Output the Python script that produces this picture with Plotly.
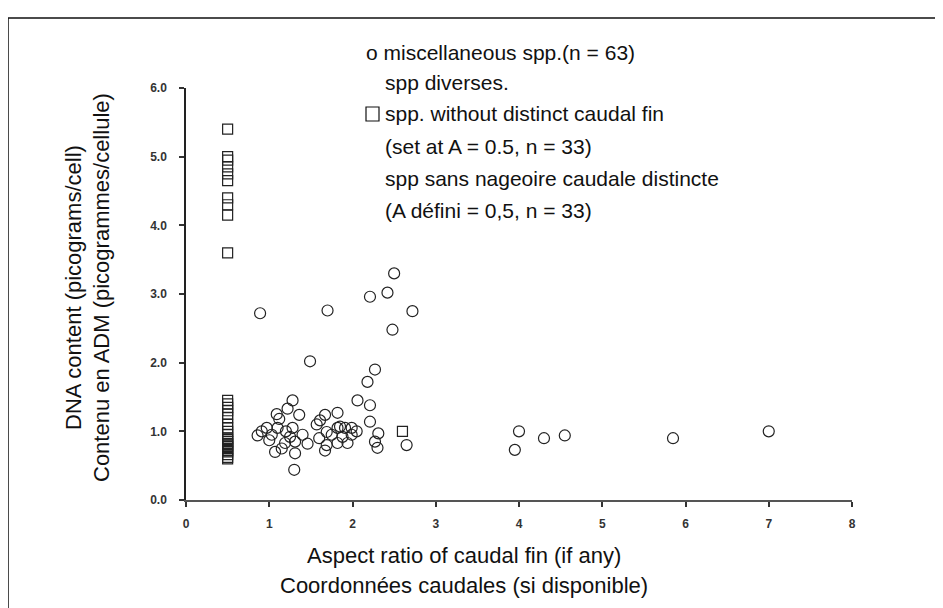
import plotly.graph_objects as go

# --- data -------------------------------------------------------------
circle_x = [0.89, 1.70, 2.21, 2.42, 2.50, 2.72, 2.48, 1.49, 2.27, 2.18, 2.06, 2.21,
            2.21, 2.31, 2.27, 2.30, 2.65, 4.00, 3.95, 4.30, 4.55, 5.85, 7.00,
            1.28, 1.09, 1.22, 1.36, 0.91, 0.86, 1.10, 1.28, 1.00, 1.07, 1.19, 1.31,
            1.31, 1.46, 1.30, 1.20, 1.03, 1.15,
            1.61, 1.67, 1.82, 1.69, 1.82, 1.91, 1.69, 1.82, 1.94, 1.99, 1.85, 1.99,
            1.57, 1.67, 1.75, 1.88, 1.60,
            2.05, 1.40, 1.25, 0.97, 1.12]
circle_y = [2.72, 2.76, 2.96, 3.02, 3.30, 2.75, 2.48, 2.02, 1.90, 1.72, 1.45, 1.38,
            1.14, 0.97, 0.85, 0.76, 0.80, 1.00, 0.73, 0.90, 0.94, 0.90, 1.00,
            1.45, 1.25, 1.33, 1.24, 1.00, 0.94, 1.05, 1.05, 0.87, 0.70, 0.83, 0.85,
            0.68, 0.82, 0.44, 1.00, 0.95, 0.75,
            1.16, 1.24, 1.27, 0.99, 1.05, 1.05, 0.80, 0.83, 0.83, 0.95, 1.07, 1.05,
            1.10, 0.72, 0.95, 0.92, 0.90,
            1.00, 0.95, 0.92, 1.05, 1.18]

square_x = [0.5] * 32 + [2.6]
square_y = [5.40, 5.00, 4.95, 4.85, 4.75, 4.65, 4.40, 4.30, 4.15, 3.60,
            1.45, 1.40, 1.35, 1.30, 1.25, 1.20, 1.10, 1.05, 1.00, 0.95, 0.90,
            0.88, 0.85, 0.82, 0.80, 0.78, 0.75, 0.72, 0.70, 0.66, 0.62, 0.60,
            1.00]

x_ticks = [0, 1, 2, 3, 4, 5, 6, 7, 8]
x_ticktext = ["0", "1", "2", "3", "4", "5", "6", "7", "8"]
y_ticks = [0, 1, 2, 3, 4, 5, 6]
y_ticktext = ["0.0", "1.0", "2.0", "3.0", "4.0", "5.0", "6.0"]

legend_lines = ["o miscellaneous spp.(n = 63)",
                "spp diverses.",
                "spp. without distinct caudal fin",
                "(set at A = 0.5, n = 33)",
                "spp sans nageoire caudale distincte",
                "(A défini = 0,5, n = 33)"]
x_title = ["Aspect ratio of caudal fin (if any)", "Coordonnées caudales (si disponible)"]
y_title = ["DNA content (picograms/cell)", "Contenu en ADM (picogrammes/cellule)"]

# --- layout geometry --------------------------------------------------
# the page has an 8px body margin, so the figure is offset by 8px
W, H = 943, 608
OFF = 8
PL, PT, PR, PB = 186, 88, 852, 500        # plot area in page pixels
L, T = PL - OFF, PT - OFF
PW, PH = PR - PL, PB - PT
R, B = W - L - PW, H - T - PH


def px(xp):
    return (xp - PL) / PW


def py(yp):
    return (PB - yp) / PH


FONT = "Liberation Sans, Arial, sans-serif"

fig = go.Figure()
fig.add_trace(go.Scatter(x=square_x, y=square_y, mode="markers",
                         marker=dict(symbol="square-open", size=10, color="#222",
                                     line=dict(width=1.2, color="#222")),
                         cliponaxis=False, showlegend=False, hoverinfo="skip"))
fig.add_trace(go.Scatter(x=circle_x, y=circle_y, mode="markers",
                         marker=dict(symbol="circle-open", size=11, color="#222",
                                     line=dict(width=1.2, color="#222")),
                         cliponaxis=False, showlegend=False, hoverinfo="skip"))

annotations = []
leg_pos = [(364, 52), (383, 83), (383, 114), (383, 146), (383, 178), (383, 210)]
for txt, (xp, yp) in zip(legend_lines, leg_pos):
    annotations.append(dict(text=txt, xref="paper", yref="paper", x=px(xp), y=py(yp),
                            xanchor="left", yanchor="middle", showarrow=False,
                            font=dict(family=FONT, size=21, color="#111")))
for txt, yp in zip(x_title, [555, 585]):
    annotations.append(dict(text=txt, xref="paper", yref="paper", x=px(464), y=py(yp),
                            xanchor="center", yanchor="middle", showarrow=False,
                            font=dict(family=FONT, size=22, color="#111")))
for txt, xp in zip(y_title, [73, 101]):
    annotations.append(dict(text=txt, xref="paper", yref="paper", x=px(xp), y=py(288),
                            xanchor="center", yanchor="middle", showarrow=False,
                            textangle=-90,
                            font=dict(family=FONT, size=22, color="#111")))

shapes = [
    dict(type="rect", xref="paper", yref="paper", x0=px(8), x1=px(936), y0=py(18), y1=py(640),
         line=dict(color="#111", width=1.5)),
    dict(type="rect", xref="paper", yref="paper", x0=px(366), x1=px(379), y0=py(107), y1=py(121),
         line=dict(color="#111", width=1.2)),
]

fig.update_layout(
    width=W, height=H,
    margin=dict(l=L, r=R, t=T, b=B, autoexpand=False),
    paper_bgcolor="white", plot_bgcolor="white",
    showlegend=False,
    annotations=annotations, shapes=shapes,
    xaxis=dict(range=[0, 8], tickvals=x_ticks, ticktext=x_ticktext, showgrid=False,
               zeroline=False, showline=True, linecolor="#555", linewidth=2,
               ticks="outside", ticklen=5, tickcolor="#333", tickwidth=1.5,
               ticklabelstandoff=7,
               tickfont=dict(family=FONT, size=12, color="#333", weight="bold"),
               fixedrange=True),
    yaxis=dict(range=[0, 6], tickvals=y_ticks, ticktext=y_ticktext, showgrid=False,
               zeroline=False, showline=True, linecolor="#222", linewidth=1.5,
               ticks="outside", ticklen=5, tickcolor="#333", tickwidth=1.5,
               ticklabelstandoff=10,
               tickfont=dict(family=FONT, size=12, color="#333", weight="bold"),
               fixedrange=True),
)

fig.write_html("out.html")
